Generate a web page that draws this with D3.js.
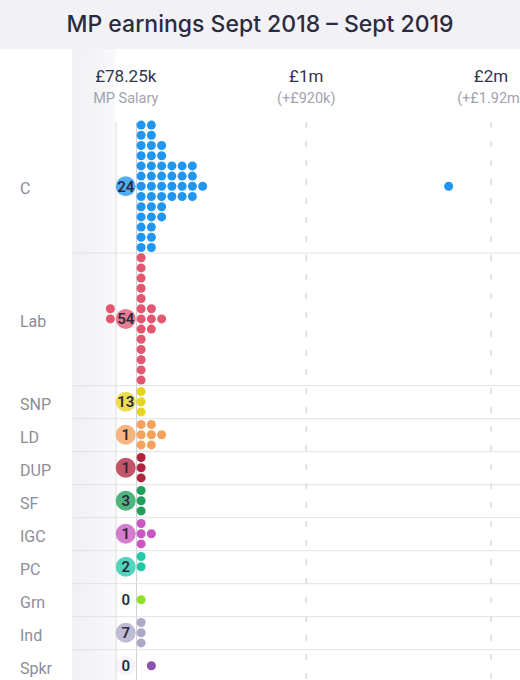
<!DOCTYPE html>
<html lang="en">
<head>
  <meta charset="UTF-8">
  <title>MP earnings Sept 2018 – Sept 2019</title>
  <style>
    html, body {
      margin: 0;
      padding: 0;
      background: #fff;
    }
    #svg {
      display: block;
      font-family: Roboto, "Noto Sans", sans-serif;
    }
  </style>
</head>
<body>
  <svg id="svg" width="520" height="680"></svg>
  <script src="https://d3js.org/d3.v7.min.js"></script>
  <script>
    const parties = ["C", "Lab", "SNP", "LD", "DUP", "SF", "IGC", "PC", "Grn", "Ind", "Spkr"]
    const partyColors = ["#2196f0", "#e4566f", "#e8d424", "#f5a25c", "#b2253f", "#1f9f5b",
                         "#c857c0", "#22c9a8", "#8fe02c", "#aea7c6", "#8a52b0"]

    // MPs with nothing on top of their salary
    const noEarnings = [24, 54, 13, 1, 1, 3, 1, 2, 0, 7, 0]

    // outside earnings per MP in £k, one dot each
    const earningsC = [2, 4, 5, 7, 9, 11, 14, 18, 22, 27, 33, 40, 48,
                       58, 60, 63, 66, 70, 74, 78, 82, 87, 92, 97, 102, 108,
                       114, 119, 125, 131, 138, 146, 153, 161,
                       172, 185, 199, 214,
                       230, 244, 258, 271,
                       285, 298, 312, 326,
                       352, 1670]
    const earningsLab = [3, 5, 8, 10, 13, 16, 20, 24, 28, 33, 38, 44, 50,
                         62, 75, 94,
                         128,
                         -140, -150]
    const earningsSNP = [6, 15, 30]
    const earningsLD = [5, 18, 36, 64, 80, 101, 132]
    const earningsDUP = [8, 19, 41]
    const earningsSF = [4, 12, 26]
    const earningsIGC = [10, 25, 44, 70]
    const earningsPC = [9, 31]
    const earningsGrn = [15]
    const earningsInd = [7, 21, 39]
    const earningsSpkr = [72]

    const earningsByParty = [earningsC, earningsLab, earningsSNP, earningsLD, earningsDUP, earningsSF,
                             earningsIGC, earningsPC, earningsGrn, earningsInd, earningsSpkr]

    const salary = 78250
    const tickValues = [78250, 1000000, 2000000]
    const tickLabels = ["£78.25k", "£1m", "£2m"]
    const tickSubLabels = ["MP Salary", "(+£920k)", "(+£1.92m)"]

    const width = 520
    const height = 680
    const headerH = 49
    const chartTop = 120
    const labelW = 72
    const colStep = 10.25   // horizontal dot spacing
    const rowStep = 10.2    // vertical dot spacing
    const dotR = 4.5
    const minRowH = 33

    const x = d3.scaleLinear()
      .domain([salary, 2000000])
      .range([136, 491])
    const x0 = x(salary)
    const countX = x0 - colStep

    // bin every party's dots into columns, stack each column from the middle out
    const rows = parties.map((p, i) => {
      const cols = d3.group(earningsByParty[i], v => Math.floor((x(salary + v * 1000) - x0) / colStep))
      const dots = []
      let maxStack = 0
      cols.forEach((vals, col) => {
        maxStack = Math.max(maxStack, vals.length)
        vals.forEach((v, j) => {
          const k = j % 2 ? -Math.ceil(j / 2) : j / 2
          dots.push({ col, k, value: v })
        })
      })
      return {
        party: p,
        color: partyColors[i],
        zero: noEarnings[i],
        dots,
        h: Math.max(maxStack * rowStep, minRowH)
      }
    })
    let yPos = chartTop
    rows.forEach(r => {
      r.top = yPos
      r.cy = yPos + r.h / 2
      yPos += r.h
    })

    const svg = d3.select("#svg")

    // panel shading next to the party labels
    const grad = svg.append("defs")
      .append("linearGradient")
      .attr("id", "shade")
      .attr("x1", 0).attr("x2", 1).attr("y1", 0).attr("y2", 0)
    grad.append("stop").attr("offset", "0%").attr("stop-color", "#f0f0f3")
    grad.append("stop").attr("offset", "100%").attr("stop-color", "#f9f9fb")

    svg.append("rect")
      .attr("x", labelW).attr("y", headerH)
      .attr("width", countX - colStep - labelW).attr("height", height - headerH)
      .attr("fill", "url(#shade)")

    // title bar
    svg.append("rect")
      .attr("width", width).attr("height", headerH)
      .attr("fill", "#f2f2f6")
    svg.append("text")
      .attr("x", width / 2).attr("y", 32)
      .attr("text-anchor", "middle")
      .attr("font-family", "Inter, 'Noto Sans', sans-serif")
      .attr("font-size", 23)
      .attr("font-weight", 500)
      .attr("fill", "#2b2b40")
      .text("MP earnings Sept 2018 – Sept 2019")

    // tick labels
    const ticks = svg.append("g")
    ticks.selectAll(".tick-label")
      .data(tickValues)
      .enter()
      .append("text")
      .attr("x", (d, i) => i === 0 ? countX : x(d))
      .attr("y", 82)
      .attr("text-anchor", "middle")
      .attr("font-size", 17)
      .attr("fill", "#33334a")
      .text((d, i) => tickLabels[i])
    ticks.selectAll(".tick-sub")
      .data(tickValues)
      .enter()
      .append("text")
      .attr("x", (d, i) => i === 0 ? countX : x(d))
      .attr("y", 103)
      .attr("text-anchor", "middle")
      .attr("font-size", 14.5)
      .attr("fill", "#a3a3ae")
      .text((d, i) => tickSubLabels[i])

    // grid lines
    const grid = svg.append("g")
    grid.append("line")
      .attr("x1", countX - colStep + 0.5).attr("x2", countX - colStep + 0.5)
      .attr("y1", chartTop + 2).attr("y2", height)
      .attr("stroke", "#dcdce0")
    grid.append("line")
      .attr("x1", x0 + 0.5).attr("x2", x0 + 0.5)
      .attr("y1", chartTop + 2).attr("y2", height)
      .attr("stroke", "#d2d2d8")
    grid.selectAll(".dash")
      .data(tickValues.slice(1))
      .enter()
      .append("line")
      .attr("x1", d => x(d)).attr("x2", d => x(d))
      .attr("y1", chartTop + 2).attr("y2", height)
      .attr("stroke", "#dadada")
      .attr("stroke-width", 1.5)
      .attr("stroke-dasharray", "6 13")
    grid.selectAll(".row-line")
      .data(rows)
      .enter()
      .append("line")
      .attr("x1", labelW).attr("x2", width)
      .attr("y1", d => d.top + d.h + 0.5).attr("y2", d => d.top + d.h + 0.5)
      .attr("stroke", "#e2e2e6")

    // party rows
    const rowG = svg.selectAll(".row")
      .data(rows)
      .enter()
      .append("g")
      .attr("transform", d => `translate(0, ${d.cy})`)

    rowG.append("text")
      .attr("x", 20)
      .attr("y", 2.5)
      .attr("dy", "0.35em")
      .attr("font-size", 16)
      .attr("fill", "#8c8c99")
      .text(d => d.party)

    rowG.selectAll("circle.dot")
      .data(d => d.dots.map(p => ({ ...p, color: d.color })))
      .enter()
      .append("circle")
      .attr("class", "dot")
      .attr("cx", d => x0 + (d.col + 0.5) * colStep)
      .attr("cy", d => d.k * rowStep)
      .attr("r", dotR)
      .attr("fill", d => d.color)

    rowG.append("circle")
      .attr("cx", countX)
      .attr("cy", 0)
      .attr("r", 10)
      .attr("fill", d => d.color)
      .attr("fill-opacity", d => d.zero ? 0.78 : 0.06)

    rowG.append("text")
      .attr("x", countX)
      .attr("y", 0)
      .attr("dy", "0.36em")
      .attr("text-anchor", "middle")
      .attr("font-size", 15)
      .attr("font-weight", 600)
      .attr("fill", "#2a2a40")
      .text(d => d.zero)
  </script>
</body>
</html>
